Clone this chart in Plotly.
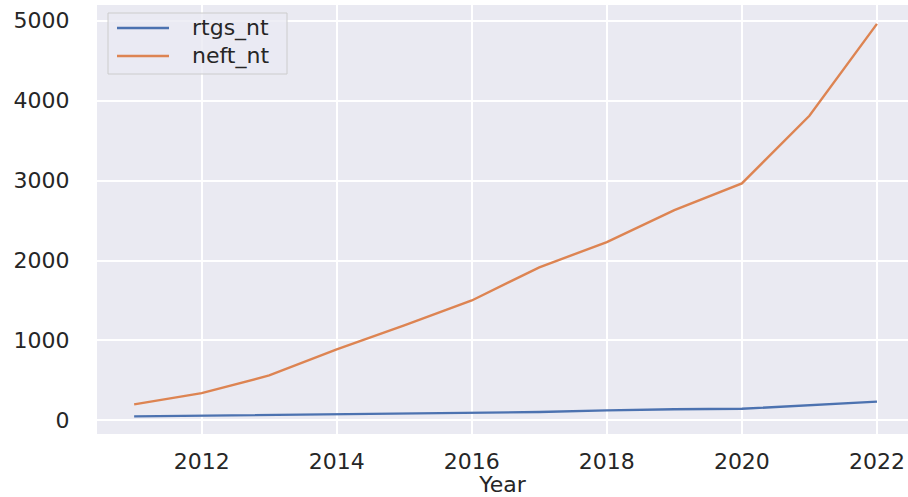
import plotly.graph_objects as go

# Annual transaction volumes by payment system
years = [2011, 2012, 2013, 2014, 2015, 2016, 2017, 2018, 2019, 2020, 2021, 2022]
rtgs_nt = [50, 58, 65, 72, 80, 88, 105, 125, 140, 145, 190, 235]
neft_nt = [200, 341, 562, 890, 1190, 1500, 1915, 2230, 2630, 2965, 3810, 4960]

series_names = ["rtgs_nt", "neft_nt"]
series_colors = ["#4C72B0", "#DD8452"]

text_color = "#262626"
font_family = "DejaVu Sans"
font_size = 22

# plot area in pixels
W, H = 908, 497
ML, MR, MT, MB = 97, 0, 5, 63
PW, PH = W - ML - MR, H - MT - MB


def px_x(px):
    return (px - ML) / PW


def px_y(py):
    return 1 - (py - MT) / PH


fig = go.Figure()
for name, values, color in zip(series_names, [rtgs_nt, neft_nt], series_colors):
    fig.add_trace(go.Scatter(
        x=years, y=values, mode="lines", name=name,
        line=dict(color=color, width=2.4), showlegend=False,
    ))

# legend frame, sample lines and labels (matplotlib-style, upper left)
shapes = [dict(
    type="rect", xref="paper", yref="paper",
    x0=px_x(108), x1=px_x(287), y0=px_y(74), y1=px_y(13),
    fillcolor="rgba(234,234,242,0.8)", line=dict(color="#CCCCCC", width=1),
    layer="above",
)]
annotations = []
row_y = [28, 56]
for name, color, ry in zip(series_names, series_colors, row_y):
    shapes.append(dict(
        type="line", xref="paper", yref="paper",
        x0=px_x(117), x1=px_x(169), y0=px_y(ry), y1=px_y(ry),
        line=dict(color=color, width=2.4), layer="above",
    ))
    annotations.append(dict(
        text=name, xref="paper", yref="paper", x=px_x(190), y=px_y(ry),
        xanchor="left", yanchor="middle", showarrow=False,
        font=dict(family=font_family, size=font_size, color=text_color),
    ))

fig.update_layout(
    width=W, height=H,
    margin=dict(l=ML, r=MR, t=MT, b=MB),
    paper_bgcolor="white",
    plot_bgcolor="#EAEAF2",
    font=dict(family=font_family, size=font_size, color=text_color),
    showlegend=False,
    shapes=shapes,
    annotations=annotations,
    xaxis=dict(
        range=[2010.45, 2022.46],
        tickvals=[2012, 2014, 2016, 2018, 2020, 2022],
        showgrid=True, gridcolor="white", gridwidth=1.5,
        zeroline=False, showline=False,
        ticks="outside", ticklen=8, tickcolor="rgba(0,0,0,0)",
        title=dict(text="Year", standoff=4,
                   font=dict(size=font_size, color=text_color)),
    ),
    yaxis=dict(
        range=[-170, 5196],
        tickvals=[0, 1000, 2000, 3000, 4000, 5000],
        showgrid=True, gridcolor="white", gridwidth=1.5,
        zeroline=False, showline=False,
        ticks="outside", ticklen=22, tickcolor="rgba(0,0,0,0)",
    ),
)

fig.write_html("out.html")
